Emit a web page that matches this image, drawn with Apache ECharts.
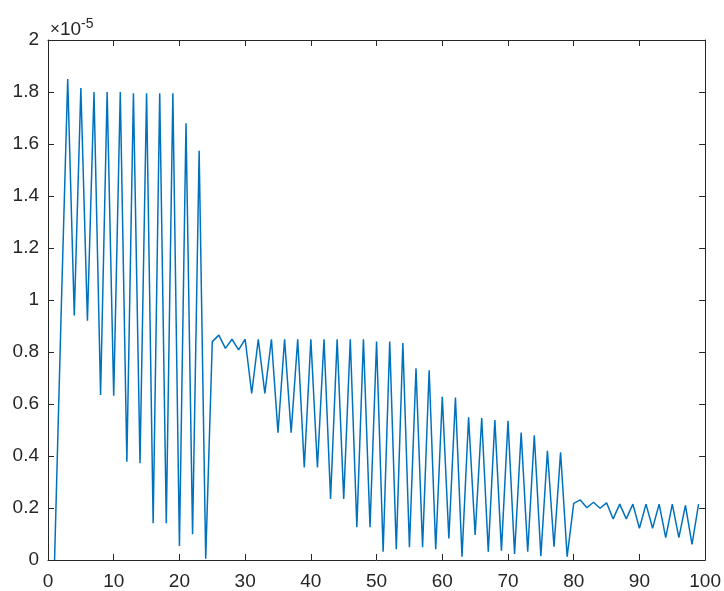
<!DOCTYPE html>
<html>
<head>
<meta charset="utf-8">
<script src="https://cdn.jsdelivr.net/npm/echarts@6/dist/echarts.min.js"></script>
<style>
  html, body { margin: 0; padding: 0; background: #fff; }
  #main { width: 724px; height: 591px; }
</style>
</head>
<body>
<div id="main"></div>
<script>
// values, in units of 1e-5, for x = 1..99
var yValues = [
  0, 0.95, 1.85, 0.94, 1.815, 0.92, 1.80, 0.635, 1.80, 0.632,
  1.80, 0.378, 1.795, 0.372, 1.795, 0.141, 1.795, 0.141, 1.795, 0.054,
  1.68, 0.099, 1.574, 0.005, 0.84, 0.865, 0.814, 0.849, 0.808, 0.849,
  0.641, 0.849, 0.641, 0.849, 0.49, 0.849, 0.49, 0.849, 0.356, 0.849,
  0.356, 0.849, 0.235, 0.849, 0.235, 0.849, 0.126, 0.849, 0.126, 0.84,
  0.032, 0.84, 0.041, 0.835, 0.049, 0.737, 0.049, 0.73, 0.041, 0.628,
  0.083, 0.625, 0.013, 0.549, 0.096, 0.546, 0.032, 0.538, 0.036, 0.535,
  0.023, 0.49, 0.032, 0.48, 0.015, 0.42, 0.051, 0.414, 0.013, 0.218,
  0.231, 0.201, 0.222, 0.199, 0.22, 0.158, 0.215, 0.158, 0.215, 0.122,
  0.215, 0.122, 0.215, 0.086, 0.215, 0.086, 0.21, 0.06, 0.215
];
var xStart = 1;

var xMin = 0, xMax = 100, xStep = 10;
var yMin = 0, yMax = 2, yStep = 0.2;

var points = [];
for (var i = 0; i < yValues.length; i++) {
  points.push([xStart + i, yValues[i]]);
}

var axisColor = '#262626';
var font = 'Liberation Sans, Arial, sans-serif';

var chart = echarts.init(document.getElementById('main'));

// box axes: bottom/left carry labels, top/right only ticks
function boxAxis(pos, isX) {
  return {
    type: 'value',
    position: pos,
    min: isX ? xMin : yMin,
    max: isX ? xMax : yMax,
    interval: isX ? xStep : yStep,
    axisLine: { show: true, onZero: false, lineStyle: { color: axisColor, width: 1 } },
    axisTick: { show: true, inside: true, length: 6, lineStyle: { color: axisColor } },
    axisLabel: { show: false },
    splitLine: { show: false }
  };
}

var xBottom = boxAxis('bottom', true);
xBottom.axisLabel = { show: true, color: axisColor, fontSize: 19, fontFamily: font, margin: 12 };
var yLeft = boxAxis('left', false);
yLeft.axisLabel = { show: true, color: axisColor, fontSize: 19, fontFamily: font, margin: 9 };

chart.setOption({
  animation: false,
  backgroundColor: '#fff',
  grid: { left: 48, right: 16, top: 40, bottom: 31, containLabel: false },
  xAxis: [xBottom, boxAxis('top', true)],
  yAxis: [yLeft, boxAxis('right', false)],
  // exponent note above the y axis
  graphic: [{
    type: 'text',
    left: 50,
    top: 17,
    style: {
      text: '{m|\u00d7}{n|10}{e|-5}',
      rich: {
        m: { fontSize: 17, fontFamily: font, fill: axisColor },
        n: { fontSize: 19, fontFamily: font, fill: axisColor },
        e: { fontSize: 14, fontFamily: font, fill: axisColor, padding: [0, 0, 11, 0] }
      }
    }
  }],
  series: [{
    type: 'line',
    data: points,
    showSymbol: false,
    lineStyle: { color: '#0072BD', width: 1.5 }
  }]
});
</script>
</body>
</html>
